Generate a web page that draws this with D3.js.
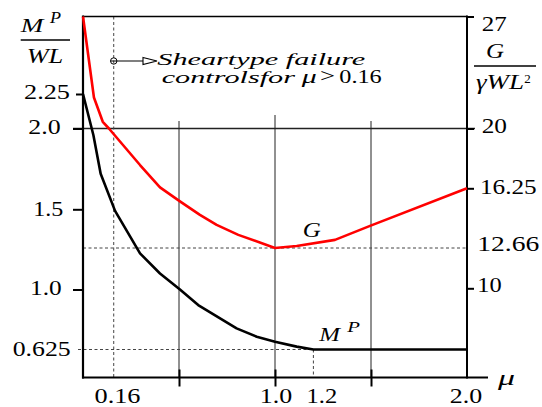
<!DOCTYPE html>
<html><head><meta charset="utf-8">
<script src="https://cdn.jsdelivr.net/npm/d3@7"></script>
<style>html,body{margin:0;padding:0;background:#fff;}svg{display:block;}
svg text{font-family:"Liberation Serif","Times New Roman",serif;}</style>
</head><body>
<svg id="chart" width="542" height="407"></svg>
<script>
// ---------- data ----------
const muBreaks = [0, 2];
const leftTicks = [0.625, 1.0, 1.5, 2.0, 2.25];
const leftTickLabels = ["0.625", "1.0", "1.5", "2.0", "2.25"];
const rightTicks = [10, 12.66, 16.25, 20, 27];
const rightTickLabels = ["10", "12.66", "16.25", "20", "27"];
const muMarkTicks = [0.5, 1.0, 1.5];
const muLabelTicks = [0.16, 1.0, 1.2, 2.0];
const muLabelText = ["0.16", "1.0", "1.2", "2.0"];
const muCritical = 0.16;
const muPlateau = 1.2;
const mpPlateau = 0.625;
const gMin = 12.66;
const gridValue = 2.0;

const muMP = [0, 0.054, 0.092, 0.167, 0.297, 0.401, 0.505, 0.6, 0.8, 0.905, 1.0, 1.113, 1.2, 2.0];
const mpValues = [2.25, 1.96, 1.72, 1.49, 1.225, 1.10, 1.0, 0.903, 0.757, 0.705, 0.674, 0.643, 0.625, 0.625];
const muG = [0, 0.057, 0.103, 0.135, 0.297, 0.401, 0.505, 0.609, 0.696, 0.809, 1.0, 1.113, 1.3125, 1.495, 2.0];
const gValues = [27, 21.94, 20.42, 20.0, 17.71, 16.31, 15.46, 14.65, 14.05, 13.45, 12.66, 12.78, 13.15, 13.99, 16.25];

// ---------- setup ----------
const svg = d3.select("#chart");
const FONT = "'Liberation Serif','Times New Roman',serif";
const X0 = 83, X1 = 467, YTOP = 16.5, YBOT = 377.5;

const x = d3.scaleLinear().domain(muBreaks).range([X0, X1]);
const yL = d3.scaleLinear().domain(leftTicks).range([349.5, 289.5, 209.3, 128.5, 94]);
const yR = d3.scaleLinear().domain(rightTicks).range([288.3, 248, 188.3, 128.5, YTOP]);

function line(x1, y1, x2, y2, sw, color, dash) {
  const l = svg.append("line").attr("x1", x1).attr("y1", y1).attr("x2", x2).attr("y2", y2)
    .attr("stroke", color || "#000").attr("stroke-width", sw);
  if (dash) l.attr("stroke-dasharray", dash);
  return l;
}
function label(x0, y0, str, o) {
  const t = svg.append("text").attr("x", x0).attr("y", y0).text(str)
    .style("font-family", FONT).attr("font-size", o.size)
    .attr("font-style", o.italic ? "italic" : "normal").attr("fill", "#000");
  if (o.len) t.attr("textLength", o.len).attr("lengthAdjust", "spacingAndGlyphs");
  return t;
}

// ---------- grid / reference lines ----------
line(73, yL(gridValue), 475, yL(gridValue), 1.4, "#222");
muMarkTicks.forEach(m => {
  line(x(m), m === 1.0 ? 115 : 121, x(m), YBOT, 1, "#222");
});
const dash = "3,2.5";
line(x(muCritical), YTOP, x(muCritical), YBOT, 1, "#444", dash);
line(X0, yR(gMin), X1, yR(gMin), 1, "#444", dash);
line(78, yL(mpPlateau), x(muPlateau), yL(mpPlateau), 1, "#444", dash);
line(x(muPlateau), yL(mpPlateau), x(muPlateau), YBOT, 1, "#444", dash);

// ---------- frame ----------
line(X0, YTOP, X1, YTOP, 1.6);
line(X0, YTOP - 1, X0, YBOT + 1, 2.2);
line(X1, YTOP - 1, X1, YBOT + 1, 2);
line(X0 - 1, YBOT, 488, YBOT, 2.2);

// ---------- axes ----------
const leftBox = {"2.25": [24, 46, 3], "2.0": [28.3, 32.4, 3.5], "1.5": [33.3, 30, 5.5], "1.0": [30, 31.7, 3.5], "0.625": [12.7, 58, 4.5]};
const gL = svg.append("g").attr("transform", `translate(${X0},0)`)
  .call(d3.axisLeft(yL).tickValues(leftTicks).tickFormat((d, i) => leftTickLabels[i]).tickSize(10).tickSizeOuter(0));
gL.select(".domain").remove();
gL.selectAll(".tick line").attr("stroke", "#000").attr("stroke-width", 2)
  .attr("x2", (d) => d === mpPlateau ? 0 : (d === 2.25 ? -7 : -10));
gL.selectAll(".tick text").each(function (d, i) {
  const b = leftBox[leftTickLabels[i]];
  d3.select(this).attr("text-anchor", "start").attr("x", b[0] - X0).attr("dy", 0).attr("y", b[2] + 1)
    .style("font-family", FONT).attr("font-size", 22).attr("fill", "#000")
    .attr("textLength", b[1]).attr("lengthAdjust", "spacingAndGlyphs");
});

const rightBox = {"27": [481.7, 25, 13.5], "20": [481.7, 25.3, 3.5], "16.25": [480, 56.7, 5], "12.66": [477.3, 62, 2], "10": [477.3, 24.4, 3.4]};
const gR = svg.append("g").attr("transform", `translate(${X1},0)`)
  .call(d3.axisRight(yR).tickValues(rightTicks).tickFormat((d, i) => rightTickLabels[i]).tickSize(7).tickSizeOuter(0));
gR.select(".domain").remove();
gR.selectAll(".tick line").attr("stroke", "#000").attr("stroke-width", 2)
  .attr("x2", d => d === gMin ? 0 : 7);
gR.selectAll(".tick text").each(function (d, i) {
  const b = rightBox[rightTickLabels[i]];
  d3.select(this).attr("text-anchor", "start").attr("x", b[0] - X1).attr("dy", 0).attr("y", b[2])
    .style("font-family", FONT).attr("font-size", 22).attr("fill", "#000")
    .attr("textLength", b[1]).attr("lengthAdjust", "spacingAndGlyphs");
});

const gB = svg.append("g").attr("transform", `translate(0,${YBOT})`)
  .call(d3.axisBottom(x).tickValues(muMarkTicks).tickFormat("").tickSize(9).tickSizeOuter(0));
gB.select(".domain").remove();
gB.selectAll(".tick line").attr("stroke", "#000").attr("stroke-width", 2).attr("y1", -8);

const bottomBox = {"0.16": [94, 46], "1.0": [259.3, 32.4], "1.2": [306, 30.7], "2.0": [449.3, 32.4]};
const gB2 = svg.append("g").attr("transform", `translate(0,${YBOT})`)
  .call(d3.axisBottom(x).tickValues(muLabelTicks).tickFormat((d, i) => muLabelText[i]).tickSize(0).tickSizeOuter(0));
gB2.select(".domain").remove();
gB2.selectAll(".tick line").remove();
gB2.selectAll(".tick text").each(function (d, i) {
  const b = bottomBox[muLabelText[i]];
  d3.select(this).attr("text-anchor", "start").attr("x", b[0] - x(d)).attr("dy", 0).attr("y", 25.5)
    .style("font-family", FONT).attr("font-size", 21).attr("fill", "#000")
    .attr("textLength", b[1]).attr("lengthAdjust", "spacingAndGlyphs");
});

// ---------- curves ----------
const gData = muG.map((m, i) => [m, gValues[i]]);
const mpData = muMP.map((m, i) => [m, mpValues[i]]);
svg.append("path").datum(gData)
  .attr("d", d3.line().x(d => x(d[0])).y(d => yR(d[1])))
  .attr("fill", "none").attr("stroke", "#f00").attr("stroke-width", 2.6).attr("stroke-linejoin", "round");
svg.append("path").datum(mpData)
  .attr("d", d3.line().x(d => x(d[0])).y(d => yL(d[1])))
  .attr("fill", "none").attr("stroke", "#000").attr("stroke-width", 2.6).attr("stroke-linejoin", "round");

// ---------- titles ----------
label(20.7, 31.7, "M", {size: 18, italic: true, len: 22.6});
label(50, 23.3, "P", {size: 16, italic: true, len: 11});
line(20.7, 40, 70, 40, 1.5);
label(26.7, 63.3, "WL", {size: 20, italic: true, len: 36.6});

label(486, 58, "G", {size: 20, italic: true, len: 18});
line(474, 66, 536, 66, 1.5);
label(476, 88.5, "γWL", {size: 20, italic: true, len: 48});
label(524.3, 83.3, "2", {size: 13, len: 6.5});

label(498, 385, "μ", {size: 22, italic: true, len: 17});

label(302.7, 237.3, "G", {size: 21, italic: true, len: 18});
label(319.3, 340.7, "M", {size: 19, italic: true, len: 20.7});
label(347.3, 331.7, "P", {size: 15, italic: true, len: 12.7});

// ---------- annotation ----------
svg.append("circle").attr("cx", x(muCritical)).attr("cy", 61).attr("r", 3.2)
  .attr("fill", "none").attr("stroke", "#000").attr("stroke-width", 1);
line(x(muCritical) - 3, 61, 143, 61, 1.2);
svg.append("path").attr("d", "M143,57.5 L157,61 L143,64.5 Z")
  .attr("fill", "#fff").attr("stroke", "#000").attr("stroke-width", 1.1);
label(157.3, 65, "Sheartype failure", {size: 17.5, italic: true, len: 208});
label(161.7, 83.3, "controlsfor", {size: 17.5, italic: true, len: 133.3});
label(301.7, 83.3, "μ", {size: 18, italic: true, len: 15});
label(320, 81.5, ">", {size: 18, len: 15});
label(339.3, 83.3, "0.16", {size: 19, len: 42.4});
</script>
</body></html>
